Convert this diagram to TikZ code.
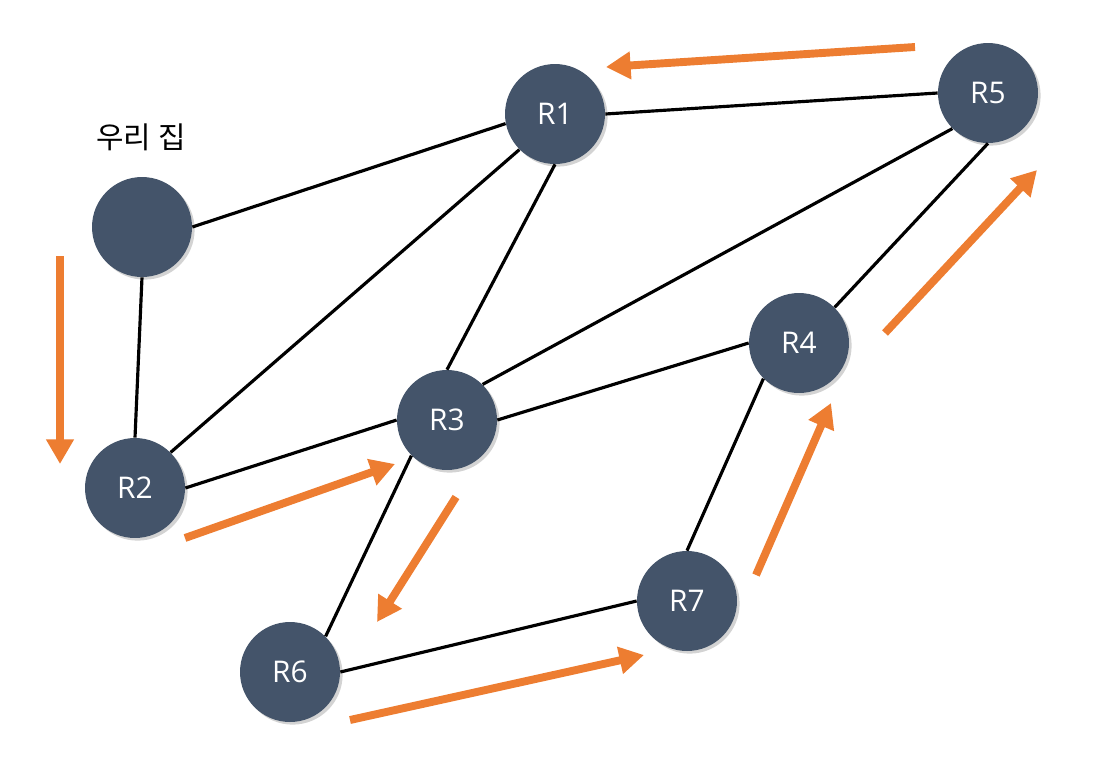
\documentclass[tikz,border=0pt]{standalone}
\usepackage{fontspec}
\setmainfont{Open Sans}
\newfontfamily\kofont{Noto Sans CJK KR}
\usepackage{tikz}
\usetikzlibrary{arrows.meta, shadows}

\definecolor{router}{HTML}{44546A}
\definecolor{percorso}{HTML}{ED7D31}

\tikzset{
    routernode/.style={circle, fill=router, minimum size=2cm, inner sep=0pt,
        text=white, font=\fontsize{17}{20}\selectfont,
        drop shadow={opacity=0.35, shadow xshift=1.5pt, shadow yshift=-1.5pt}},
    link/.style={line width=1.8pt, black},
    hop/.style={line width=4.5pt, percorso, -{Triangle[length=14pt, width=15pt]}}
}

\begin{document}
\begin{tikzpicture}[x=0.02cm, y=-0.02cm]
    \useasboundingbox (0,0) rectangle (1116,768);

    % Router
    \node[routernode] (casa) at (142,227) {};
    \node[routernode] (r1) at (555,114) {R1};
    \node[routernode] (r5) at (988,93) {R5};
    \node[routernode] (r2) at (135,488) {R2};
    \node[routernode] (r3) at (447,420) {R3};
    \node[routernode] (r4) at (799,343) {R4};
    \node[routernode] (r6) at (290,672) {R6};
    \node[routernode] (r7) at (687,601) {R7};

    % Etichetta
    \node[font=\kofont\fontsize{17}{20}\selectfont] (casalabel) at (141,137) {우리 집};

    % Collegamenti
    \draw[link] (casa.east) -- (r1.191);
    \draw[link] (casa.south) -- (r2.north);
    \draw[link] (r1.east) -- (r5.west);
    \draw[link] (r1.south west) -- (r2.north east);
    \draw[link] (r1.south) -- (r3.north);
    \draw[link] (r5.south west) -- (r3.north east);
    \draw[link] (r5.south) -- (r4.north east);
    \draw[link] (r2.east) -- (r3.west);
    \draw[link] (r3.east) -- (r4.west);
    \draw[link] (r3.south west) -- (r6.north east);
    \draw[link] (r4.south west) -- (r7.north);
    \draw[link] (r6.east) -- (r7.west);

    % Percorso
    \coordinate (a0) at (60,256);   \coordinate (a1) at (60,464);
    \coordinate (b0) at (185,538);  \coordinate (b1) at (395,464);
    \coordinate (c0) at (456,497);  \coordinate (c1) at (377,622);
    \coordinate (d0) at (350,720);  \coordinate (d1) at (644,655);
    \coordinate (e0) at (756,575);  \coordinate (e1) at (831,403);
    \coordinate (f0) at (885,333);  \coordinate (f1) at (1037,170);
    \coordinate (g0) at (915,47);   \coordinate (g1) at (606,67);
    \draw[hop] (a0) -- (a1);
    \draw[hop] (b0) -- (b1);
    \draw[hop] (c0) -- (c1);
    \draw[hop] (d0) -- (d1);
    \draw[hop] (e0) -- (e1);
    \draw[hop] (f0) -- (f1);
    \draw[hop] (g0) -- (g1);
\end{tikzpicture}
\end{document}
